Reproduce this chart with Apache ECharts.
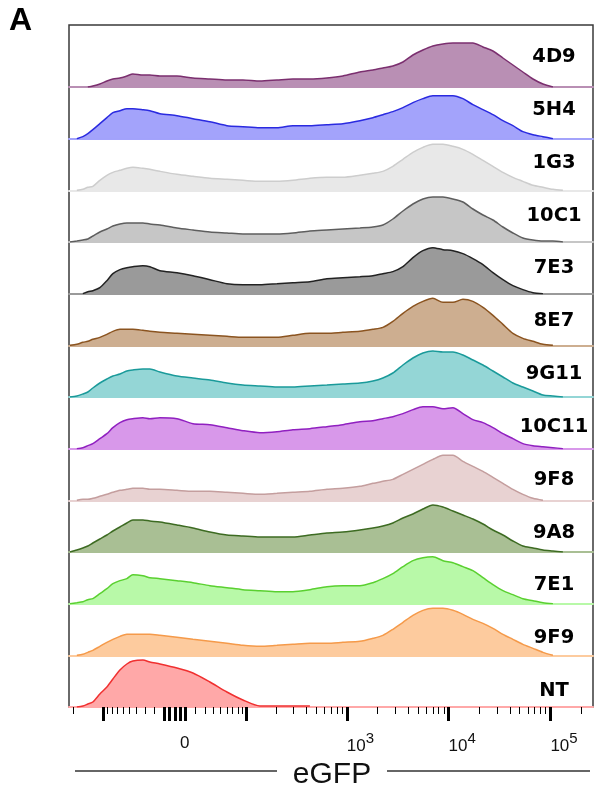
<!DOCTYPE html>
<html><head><meta charset="utf-8">
<script src="https://cdn.jsdelivr.net/npm/echarts@6/dist/echarts.min.js"></script>
<style>html,body{margin:0;padding:0;background:#fff}#c{width:596px;height:795px}</style>
</head><body><div id="c"></div>
<script>
// ---------------- DATA ----------------
const rowNames = ['4D9','5H4','1G3','10C1','7E3','8E7','9G11','10C11','9F8','9A8','7E1','9F9','NT'];
// histogram bin centres, in biexponential display units (decades on the display scale)
const binCenters = [-1.031,-0.963,-0.904,-0.855,-0.806,-0.737,-0.668,-0.609,-0.540,-0.472,-0.413,-0.314,-0.246,-0.147,0.020,0.177,0.344,0.511,0.668,0.835,1.002,1.159,1.326,1.493,1.650,1.817,1.945,2.043,2.141,2.240,2.338,2.436,2.534,2.633,2.731,2.829,2.927,3.026,3.124,3.222,3.320,3.418,3.517,3.615,3.713,3.811,3.929,4.106];
const n = null;
const c4D9  = [n,n,n,0,1,3,6,8,9,11,13,12,12,11,11,9,8,7,7,6,7,8,8,9,11,15,17,19,21,25,32,37,41,43,44,44,44,40,36,29,22,15,8,3,0,n,n,n];
const c5H4  = [n,0,2,5,9,15,21,26,28,30,30,29,28,25,23,20,17,13,12,11,11,13,13,14,15,18,21,24,27,31,36,40,43,43,43,40,34,29,24,18,13,7,4,2,0,n,n,n];
const c1G3  = [n,0,1,3,4,10,15,18,20,22,23,22,21,19,16,14,12,11,10,9,9,10,12,13,13,15,17,19,24,31,38,43,46,46,44,41,36,30,24,18,13,9,5,3,1,0,n,n];
const c10C1 = [0,1,2,3,6,10,13,16,18,19,19,19,18,17,14,12,10,9,8,8,8,9,11,12,13,14,15,17,23,31,38,43,45,45,43,40,33,27,22,15,9,4,2,1,1,0,n,n];
const c7E3  = [n,n,0,2,3,6,13,20,24,26,27,28,27,23,21,18,14,10,9,9,10,11,12,15,16,17,18,20,22,27,36,43,46,44,43,40,35,29,21,14,8,4,1,0,n,n,n,n];
const c8E7  = [0,1,3,4,6,8,11,14,16,16,16,15,14,13,12,11,10,9,8,8,8,10,12,12,13,14,16,18,24,32,39,44,47,43,43,46,44,38,30,21,12,7,4,1,0,n,n,n];
const c9G11 = [0,1,3,5,9,14,18,21,23,26,27,28,28,25,21,19,17,14,12,11,10,10,11,12,13,14,16,19,24,32,39,44,46,45,45,42,37,32,26,20,14,10,6,2,1,0,n,n];
const c10C11= [n,0,1,3,5,10,15,21,26,29,30,31,30,31,30,25,24,21,18,16,17,19,20,22,24,27,28,30,32,35,39,42,42,40,41,35,29,26,21,15,10,5,3,2,1,0,n,n];
const c9F8  = [n,0,1,1,2,4,6,8,10,11,12,12,11,11,10,9,9,8,7,6,7,8,9,11,12,14,17,19,21,26,31,36,41,45,45,39,34,29,23,17,11,6,2,0,n,n,n,n];
const c9A8  = [0,2,4,6,9,13,17,21,25,29,32,32,31,30,27,24,20,17,16,15,15,15,17,19,20,22,24,26,29,34,38,43,47,45,41,37,33,28,22,17,11,6,4,2,1,0,n,n];
const c7E1  = [0,1,2,4,5,10,15,20,23,25,29,28,26,25,23,21,18,16,14,13,12,12,14,17,18,18,21,25,30,37,43,46,47,43,41,37,33,26,19,13,9,5,3,1,0,n,n,n];
const c9F9  = [n,0,1,3,5,9,13,16,19,21,21,21,21,20,18,16,14,12,10,9,10,11,12,12,13,14,17,20,26,33,40,45,47,47,45,41,36,32,27,21,16,11,7,3,0,n,n,n];
const cNT   = [n,0,1,3,5,13,20,28,37,43,46,47,45,43,39,34,25,15,7,1,1,1,1,n,n,n,n,n,n,n,n,n,n,n,n,n,n,n,n,n,n,n,n,n,n,n,n,n];
const rowValues = [c4D9,c5H4,c1G3,c10C1,c7E3,c8E7,c9G11,c10C11,c9F8,c9A8,c7E1,c9F9,cNT];

// axis ticks (eGFP intensity values)
const majorTickValues = [-100,-10,-5,0,5,10,100,1000,10000,100000];
const minorTickValues = [-200,-90,-80,-70,-60,-50,-40,-30,-20,20,30,40,50,60,70,80,90,
  200,300,400,500,600,700,800,900,2000,3000,4000,5000,6000,7000,8000,9000,
  20000,30000,40000,50000,60000,70000,80000,90000,200000];
const tickLabelValues = [0,1000,10000,100000];
const tickLabelTexts = ['0','10^3','10^4','10^5'];

// ---------------- STYLE ----------------
const fillColors = ['#b98fb4','#a3a3fb','#e8e8e8','#c6c6c6','#9a9a9a','#cdae90','#94d6d6','#d898ea','#e8d2d2','#a9bf94','#b8f9a8','#fdcb9e','#ffa8a8'];
const lineColors = ['#7b2f6f','#2a2ae0','#cdcdcd','#5e5e5e','#222222','#8b5420','#1a9a9a','#9020c0','#c49e9e','#3d6b22','#5ad030','#f59a4a','#f03030'];

function biex(v){ return Math.asinh(v/41)/Math.LN10; }
const X_MIN = biex(-223), X_MAX = biex(262144);

const PLOT_LEFT = 69, PLOT_TOP = 25, PLOT_W = 524, PLOT_H = 682;
const FIRST_BASE = 87, ROW_STEP = (707-87)/12, ROW_H = 50;

const grids = [
  {left: PLOT_LEFT, top: PLOT_TOP, width: PLOT_W, height: PLOT_H, show: true, borderColor: '#3a3a3a', borderWidth: 1.5, backgroundColor: 'transparent'},
  {left: PLOT_LEFT, top: 30.6, width: PLOT_W, height: 686.8}
];
const xAxes = [
  {type:'value', gridIndex:0, position:'bottom', min:X_MIN, max:X_MAX,
   axisLine:{show:false}, splitLine:{show:false},
   axisTick:{show:true, customValues: majorTickValues.map(biex), length:14, lineStyle:{width:3, color:'#000'}},
   axisLabel:{show:true, customValues: tickLabelValues.map(biex), align:'left', margin:24,
     formatter: function(val){
       let i = 0, best = 1e9;
       tickLabelValues.forEach((t,k)=>{ const d=Math.abs(biex(t)-val); if(d<best){best=d;i=k;} });
       const t = tickLabelTexts[i];
       if (t.indexOf('^')>=0){ const p=t.split('^'); return '{b|'+p[0]+'}{s|'+p[1]+'}'; }
       return '{z|'+t+'}';
     },
     rich:{
       b:{fontSize:17, fontFamily:'Liberation Sans', color:'#111', lineHeight:24, verticalAlign:'bottom'},
       s:{fontSize:15, fontFamily:'Liberation Sans', color:'#111', lineHeight:8, verticalAlign:'top'},
       z:{fontSize:17, fontFamily:'Liberation Sans', color:'#111', lineHeight:24, padding:[0,0,0,5]}
     }
   }},
  {type:'value', gridIndex:0, position:'bottom', min:X_MIN, max:X_MAX,
   axisLine:{show:false}, splitLine:{show:false},
   axisTick:{show:true, customValues: minorTickValues.map(biex), length:7, lineStyle:{width:1, color:'#000'}},
   axisLabel:{show:false}},
  {type:'value', gridIndex:1, show:false, min:0, max:1}
];
const yAxes = [
  {type:'value', gridIndex:0, show:false, min:0, max:1},
  {type:'category', gridIndex:1, data: rowNames, inverse:true, position:'right',
   axisLine:{show:false}, axisTick:{show:false}, splitLine:{show:false},
   axisLabel:{inside:true, margin:39, align:'center', fontFamily:'DejaVu Sans', fontWeight:'bold', fontSize:19.5, color:'#000'}}
];
const series = [];
rowNames.forEach((name, i) => {
  const base = FIRST_BASE + i*ROW_STEP;
  const gi = grids.length;
  grids.push({left: PLOT_LEFT, width: PLOT_W, top: base - ROW_H, height: ROW_H});
  xAxes.push({type:'value', gridIndex: gi, min:X_MIN, max:X_MAX,
    axisLine:{show:true, onZero:false, lineStyle:{color: fillColors[i], width:2}},
    axisTick:{show:false}, axisLabel:{show:false}, splitLine:{show:false}});
  yAxes.push({type:'value', gridIndex: gi, min:0, max:ROW_H, show:false});
  series.push({
    name, type:'line', xAxisIndex: xAxes.length-1, yAxisIndex: yAxes.length-1,
    data: binCenters.map((x,j)=>[x, rowValues[i][j]===null ? '-' : rowValues[i][j]]),
    showSymbol:false, smooth:0.25, silent:true,
    lineStyle:{color: lineColors[i], width:1.5},
    areaStyle:{color: fillColors[i], opacity:1}
  });
});

const chart = echarts.init(document.getElementById('c'), null, {renderer:'canvas'});
chart.setOption({
  animation:false,
  backgroundColor:'#fff',
  title:{text:'A', left:4, top:1, padding:[4,5], textStyle:{fontSize:32, fontWeight:'bold', fontFamily:'Liberation Sans', color:'#000'}},
  grid: grids, xAxis: xAxes, yAxis: yAxes, series,
  graphic:[
    {type:'line', shape:{x1:75,y1:771,x2:277,y2:771}, style:{stroke:'#333', lineWidth:1.5}},
    {type:'line', shape:{x1:387,y1:771,x2:590,y2:771}, style:{stroke:'#333', lineWidth:1.5}},
    {type:'text', x:332, y:775, style:{text:'eGFP', fontSize:30, fontFamily:'Liberation Sans', fill:'#111', align:'center', verticalAlign:'middle'}}
  ]
});
</script></body></html>
